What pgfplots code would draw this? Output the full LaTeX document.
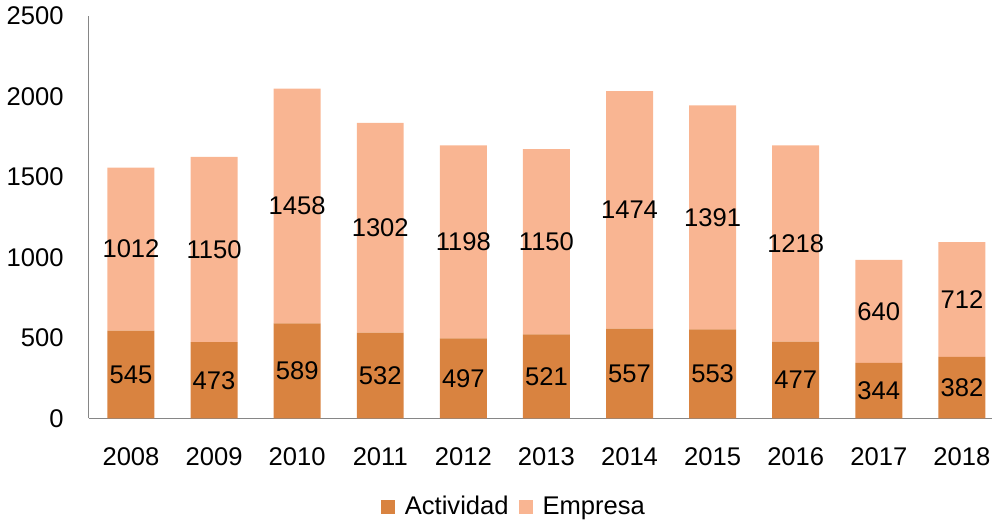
\documentclass[border=0pt]{standalone}
\usepackage{fontspec}
\setmainfont{Liberation Sans}
\usepackage{pgfplots}
\pgfplotsset{compat=1.18}
\definecolor{actividad}{RGB}{217,131,64}
\definecolor{empresa}{RGB}{249,181,146}
\definecolor{axisgray}{RGB}{134,134,134}
\begin{document}
\begin{tikzpicture}
\begin{axis}[
  scale only axis, width=452pt, height=201.5pt,
  ybar stacked, bar width=23.5pt,
  xmin=-0.51, xmax=10.36, ymin=0, ymax=2500,
  xtick={0,...,10},
  xticklabels={2008,2009,2010,2011,2012,2013,2014,2015,2016,2017,2018},
  ytick={0,500,...,2500},
  axis x line*=bottom, axis y line*=left,
  axis line style={axisgray, line width=0.6pt},
  major tick length=0pt,
  /pgf/number format/1000 sep={},
  /pgf/number format/assume math mode=true,
  tick label style={font=\fontsize{12.8}{15}\selectfont, black},
  xticklabel style={yshift=-11pt},
  yticklabel style={xshift=-9pt},
  nodes near coords,
  every node near coord/.append style={font=\fontsize{12.8}{15}\selectfont, black, anchor=center},
  legend columns=2,
  legend style={at={(0.472,-0.22)}, anchor=center, draw=none, fill=none,
    font=\fontsize{12.8}{15}\selectfont, column sep=3pt},
  legend image code/.code={\fill[#1] (0pt,-3.5pt) rectangle (7pt,3.5pt);},
]
\addplot[fill=actividad, draw=none] coordinates {
  (0,545) (1,473) (2,589) (3,532) (4,497) (5,521) (6,557) (7,553) (8,477) (9,344) (10,382)};
\addlegendentry{Actividad}
\addplot[fill=empresa, draw=none] coordinates {
  (0,1012) (1,1150) (2,1458) (3,1302) (4,1198) (5,1150) (6,1474) (7,1391) (8,1218) (9,640) (10,712)};
\addlegendentry{Empresa}
\end{axis}
\end{tikzpicture}
\end{document}
